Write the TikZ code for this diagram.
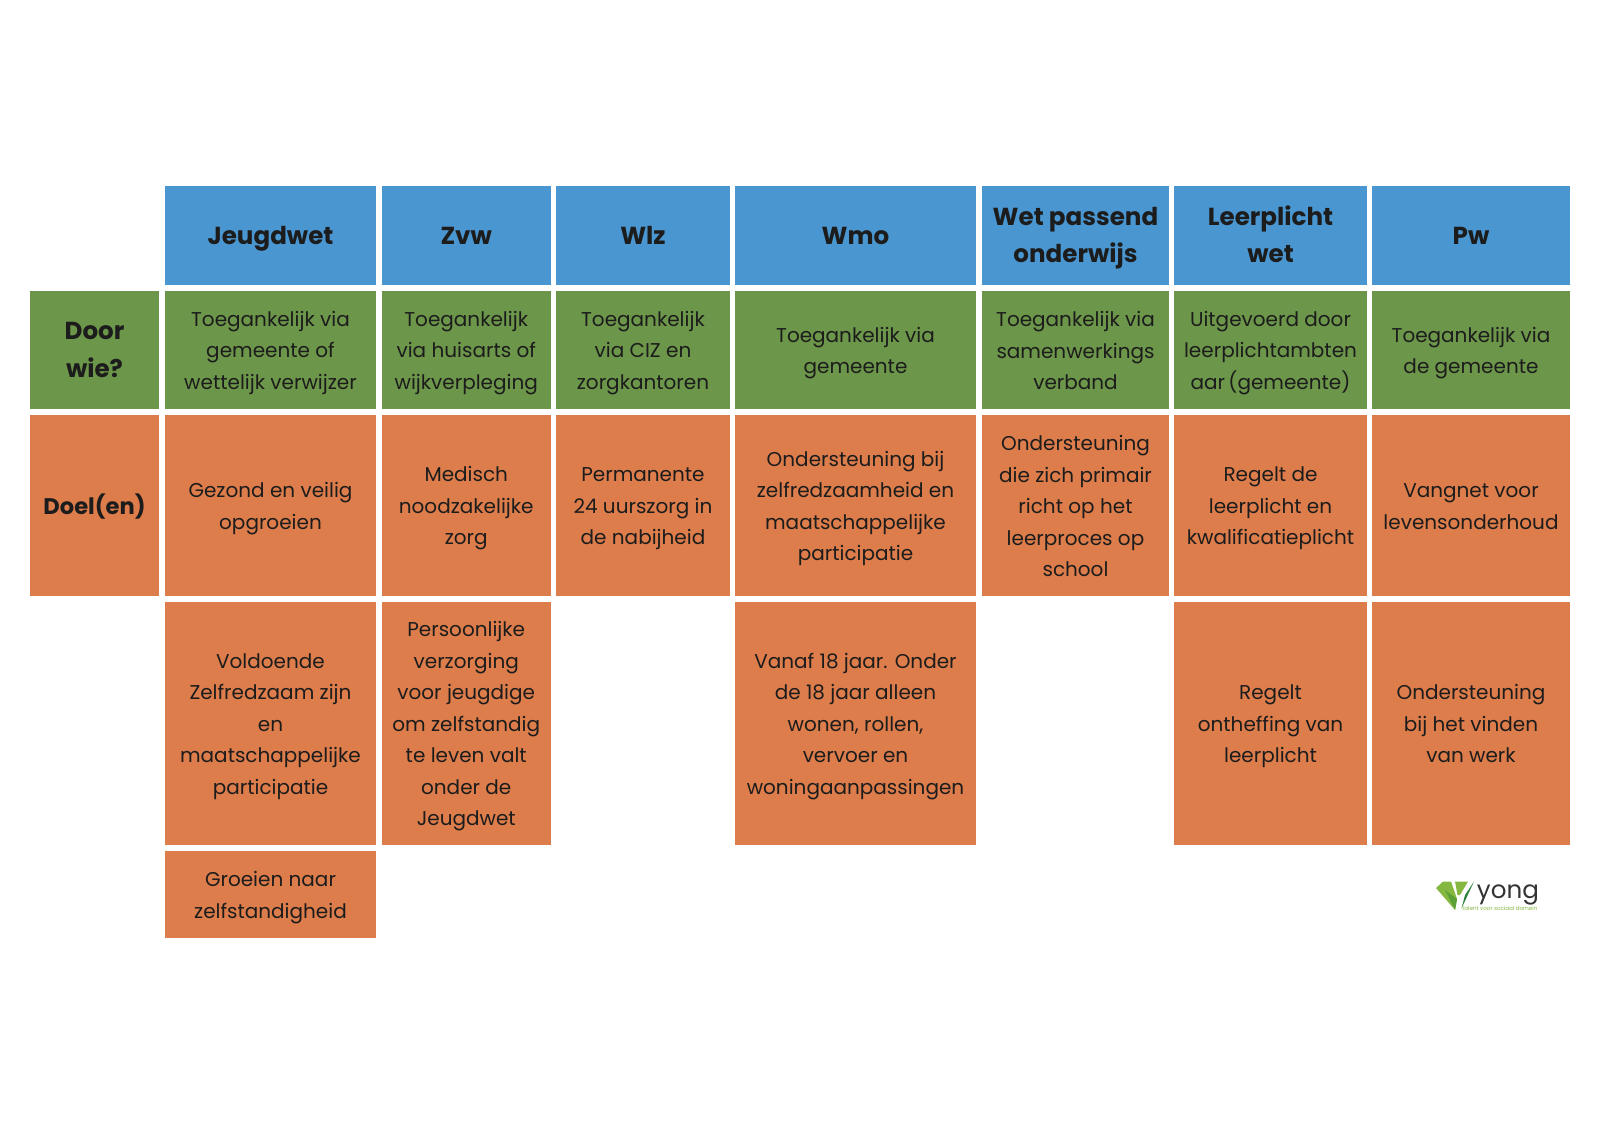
\documentclass[tikz,border=0pt]{standalone}
\usepackage{fontspec}
\setmainfont{Poppins}
\definecolor{headblue}{RGB}{74,150,208}
\definecolor{doorgreen}{RGB}{108,150,73}
\definecolor{doelorange}{RGB}{221,125,75}
\definecolor{inkblack}{RGB}{28,28,28}
\definecolor{logolight}{RGB}{132,184,64}
\definecolor{logomid}{RGB}{92,160,56}
\definecolor{logodark}{RGB}{44,130,60}
\newcommand{\plaintext}[1]{\rule{0pt}{10.5pt}#1\rule[-2.5pt]{0pt}{2.5pt}}
\newcommand{\heavytext}[1]{\rule{0pt}{12pt}#1\rule[-3.5pt]{0pt}{3.5pt}}
\tikzset{
    box/.style n args={4}{
        minimum width={(#3-#1)*0.5pt}, minimum height={(#4-#2)*0.5pt},
        inner sep=0pt, align=center, text=inkblack, at={({(#1+#3)/2},{(#2+#4)/2})}
    },
    plain/.style={font=\fontsize{10}{15.75}\selectfont},
    heavy/.style={font=\fontsize{12.3}{18.9}\selectfont\bfseries}
}

\begin{document}
\begin{tikzpicture}[x=0.5pt,y=-0.5pt]
                \useasboundingbox (0,0) rectangle (1600,1131);
                \def \ya {186}
                \def \yb {285}
                \foreach \s/\xa/\xb/\A in {jeugd/165/376/Jeugdwet,zvw/381.5/551/Zvw,wlz/556/730/Wlz,wmo/735/976/Wmo,wpo/982/1169/{Wet passend\\onderwijs},leer/1174/1367/{Leerplicht\\wet},pw/1372/1570/Pw}
                {
                    \node[box={\xa}{\ya}{\xb}{\yb}, heavy, fill=headblue] (head\s) {\heavytext{\A}};
                }
                \def \ya {291}
                \def \yb {409}
                \node[box={30}{\ya}{159}{\yb}, heavy, fill=doorgreen] (doorlabel) {\heavytext{Door\\wie?}};
                \foreach \s/\xa/\xb/\A in {jeugd/165/376/{Toegankelijk via\\gemeente of\\wettelijk verwijzer},zvw/381.5/551/{Toegankelijk\\via huisarts of\\wijkverpleging},wlz/556/730/{Toegankelijk\\via CIZ en\\zorgkantoren},wmo/735/976/{Toegankelijk via\\gemeente},wpo/982/1169/{Toegankelijk via\\samenwerkings\\verband},leer/1174/1367/{Uitgevoerd door\\leerplichtambten\\aar\,(gemeente)},pw/1372/1570/{Toegankelijk via\\de gemeente}}
                {
                    \node[box={\xa}{\ya}{\xb}{\yb}, plain, fill=doorgreen] (door\s) {\plaintext{\A}};
                }
                \def \ya {415}
                \def \yb {596}
                \node[box={30}{\ya}{159}{\yb}, heavy, fill=doelorange] (doellabel) {\heavytext{\fontsize{11.3}{18.9}\selectfont Doel(en)}};
                \foreach \s/\xa/\xb/\A in {jeugd/165/376/{Gezond en veilig\\opgroeien},zvw/381.5/551/{Medisch\\noodzakelijke\\zorg},wlz/556/730/{Permanente\\24 uurszorg in\\de nabijheid},wmo/735/976/{Ondersteuning bij\\zelfredzaamheid en\\maatschappelijke\\participatie},wpo/982/1169/{Ondersteuning\\die zich primair\\richt op het\\leerproces op\\school},leer/1174/1367/{Regelt de\\leerplicht en\\kwalificatieplicht},pw/1372/1570/{Vangnet voor\\levensonderhoud}}
                {
                    \node[box={\xa}{\ya}{\xb}{\yb}, plain, fill=doelorange] (doel\s) {\plaintext{\A}};
                }
                \def \ya {601.5}
                \def \yb {845}
                \foreach \s/\xa/\xb/\A in {jeugd/165/376/{Voldoende\\Zelfredzaam zijn\\en\\maatschappelijke\\participatie},zvw/381.5/551/{Persoonlijke\\verzorging\\voor jeugdige\\om zelfstandig\\te leven valt\\onder de\\Jeugdwet},wmo/735/976/{Vanaf 18 jaar. Onder\\de 18 jaar alleen\\wonen, rollen,\\vervoer en\\woningaanpassingen},leer/1174/1367/{Regelt\\ontheffing van\\leerplicht},pw/1372/1570/{Ondersteuning\\bij het vinden\\van werk}}
                {
                    \node[box={\xa}{\ya}{\xb}{\yb}, plain, fill=doelorange] (extra\s) {\plaintext{\A}};
                }
                \node[box={165}{851}{376}{938}, plain, fill=doelorange] (groeien) {\plaintext{Groeien naar\\zelfstandigheid}};
                \fill[logolight] (1436,888) -- (1443,881.5) -- (1451,881.5) -- (1457,899) -- (1455,910) -- cycle;
                \fill[logomid] (1445,890) -- (1457,899) -- (1455,910) -- cycle;
                \fill[logolight] (1455,881.5) -- (1468,881.5) -- (1460,895) -- (1457.5,895) -- cycle;
                \fill[logodark] (1474,881.5) -- (1461.5,908.5) -- (1465,895) -- cycle;
                \node[inner sep=0pt, anchor=base west, text=inkblack!90, font=\fontsize{12.3}{12.3}\selectfont] (logoname) at (1476.5,898) {yong};
                \node[inner sep=0pt, anchor=base west, text=logolight, font=\fontsize{2.8}{3}\selectfont] (logotag) at (1462,910) {talent voor sociaal domein};
            \end{tikzpicture}
\end{document}
